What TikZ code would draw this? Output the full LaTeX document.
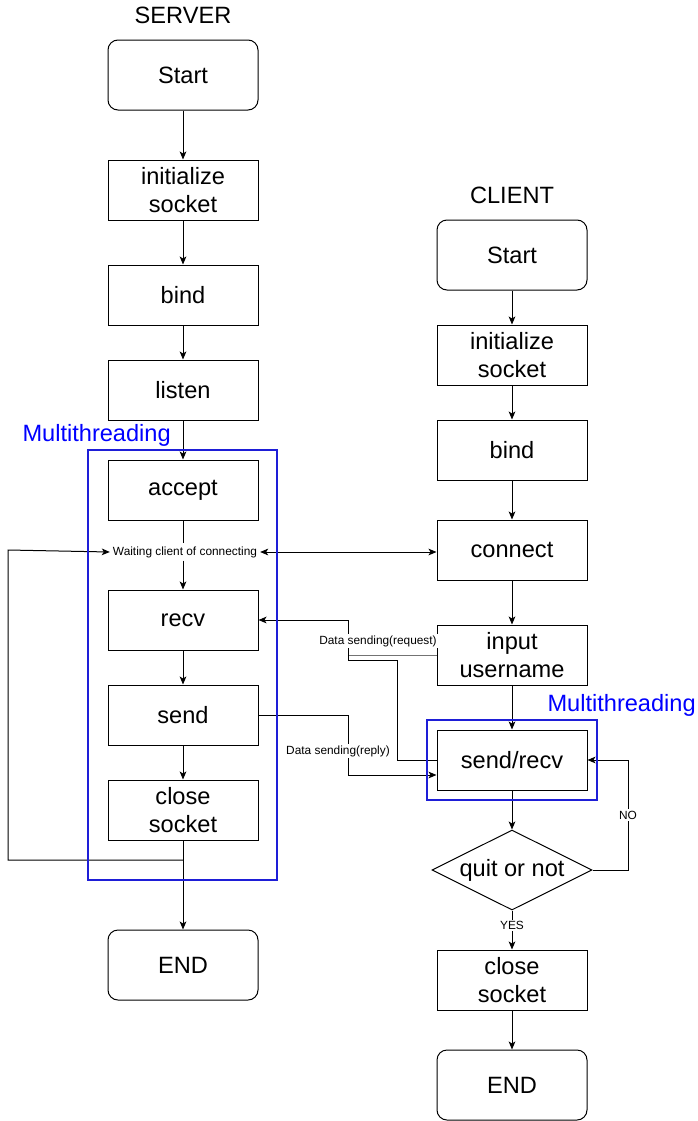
\documentclass[tikz,border=0pt]{standalone}
\usepackage{fontspec}
\setmainfont{Liberation Sans}
\usetikzlibrary{shapes.geometric,arrows.meta}
\definecolor{mtblue}{RGB}{0,0,255}
\definecolor{mtframe}{RGB}{30,30,215}
\newcommand{\bigtxt}{\fontsize{17.7}{21}\selectfont}
\newcommand{\smalltxt}{\fontsize{8.9}{10.7}\selectfont}
\tikzset{
  box/.style = {draw, minimum width=112.5pt, minimum height=45pt,
                inner sep=0pt, align=center, font=\bigtxt},
  term/.style = {box, rounded corners=7.5pt, minimum height=52.5pt},
  decide/.style = {draw, diamond, aspect=2, inner sep=0pt,
                   minimum width=120pt, minimum height=60pt, font=\bigtxt},
  lbl/.style = {font=\smalltxt, fill=white, inner sep=1pt},
  arr/.style = {-{Stealth[length=6pt,width=5pt,inset=1.5pt]}},
  arrboth/.style = {{Stealth[length=6pt,width=5pt,inset=1.5pt]}-{Stealth[length=6pt,width=5pt,inset=1.5pt]}},
  mt/.style = {draw=mtframe, line width=1.5pt}
}

\begin{document}
\begin{tikzpicture}[x=0.75pt, y=-0.75pt, line width=0.75pt]
	\def\sx{183} % server column
	\def\cx{512} % client column
	\def\dx{348} % data lines
	\useasboundingbox (0,0) rectangle (698,1121);

	% Server
	\node[font=\bigtxt] (srvtitle) at (\sx,15) {SERVER};
	\node[term] (sstart) at (\sx,75) {Start};
	\node[box] (sinit) at (\sx,190) {initialize\\socket};
	\node[box] (sbind) at (\sx,295) {bind};
	\node[box] (slisten) at (\sx,390) {listen};
	\node[box] (saccept) at (\sx,490) {accept};
	\node[font=\smalltxt, inner sep=2pt] (swait) at (185,552) {Waiting client of connecting};
	\node[box] (srecv) at (\sx,620) {recv};
	\node[box] (ssend) at (\sx,715) {send};
	\node[box] (sclose) at (\sx,810) {close\\socket};
	\node[term] (send) at (\sx,965) {END};
	\coordinate (sloop) at (\sx,860);

	% Client
	\node[font=\bigtxt] (clititle) at (\cx,195) {CLIENT};
	\node[term] (cstart) at (\cx,255) {Start};
	\node[box] (cinit) at (\cx,355) {initialize\\socket};
	\node[box] (cbind) at (\cx,450) {bind};
	\node[box] (cconn) at (\cx,550) {connect};
	\node[box] (cuser) at (\cx,655) {input\\username};
	\node[box] (csr) at (\cx,760) {send/recv};
	\node[decide] (cquit) at (\cx,870) {quit or not};
	\node[box] (cclose) at (\cx,980) {close\\socket};
	\node[term] (cend) at (\cx,1085) {END};

	% Server flow
	\draw[arr] (sstart) -- (sinit);
	\draw[arr] (sinit) -- (sbind);
	\draw[arr] (sbind) -- (slisten);
	\draw[arr] (slisten) -- (saccept);
	\draw (saccept) -- (swait.north -| saccept.south);
	\draw[arr] (swait.south -| srecv.north) -- (srecv);
	\draw[arr] (srecv) -- (ssend);
	\draw[arr] (ssend) -- (sclose);
	\draw[arr] (sclose) -- (send);
	\draw[arr] (sloop) -- (8,860) -- (8,550) -- (swait.west);

	% Client flow
	\draw[arr] (cstart) -- (cinit);
	\draw[arr] (cinit) -- (cbind);
	\draw[arr] (cbind) -- (cconn);
	\draw[arr] (cconn) -- (cuser);
	\draw[arr] (cuser) -- (csr);
	\draw[arr] (csr) -- (cquit);
	\draw[arr] (cquit) -- (cclose) node[lbl, pos=0.38] (lyes) {YES};
	\draw[arr] (cclose) -- (cend);
	\draw[arr] (cquit.east) -- (628,870) -- (628,760) -- (csr.east);
	\node[lbl] (lno) at (628,815) {NO};

	% Between server and client
	\draw[arrboth] (swait.east) -- (cconn.west |- swait.east);
	\draw[black!55] (cuser.west) -- (\dx,655);
	\draw[arr] (csr.west) -- (397,760) -- (397,660) -- (\dx,660) -- (\dx,620) -- (srecv.east);
	\node[lbl] (lreq) at (378,641) {Data sending(request)};
	\draw[arr] (ssend.east) -- (\dx,715) -- (\dx,775) -- (csr.west |- 0,775);
	\node[lbl] (lrep) at (338,751) {Data sending(reply)};

	% Multithreading
	\draw[mt] (88,450) rectangle (277,880);
	\node[anchor=west, inner sep=0pt, text=mtblue, font=\bigtxt] (smt) at (22,435) {Multithreading};
	\draw[mt] (427,720) rectangle (597,800);
	\node[anchor=west, inner sep=0pt, text=mtblue, font=\bigtxt] (cmt) at (547,705) {Multithreading};
\end{tikzpicture}
\end{document}
